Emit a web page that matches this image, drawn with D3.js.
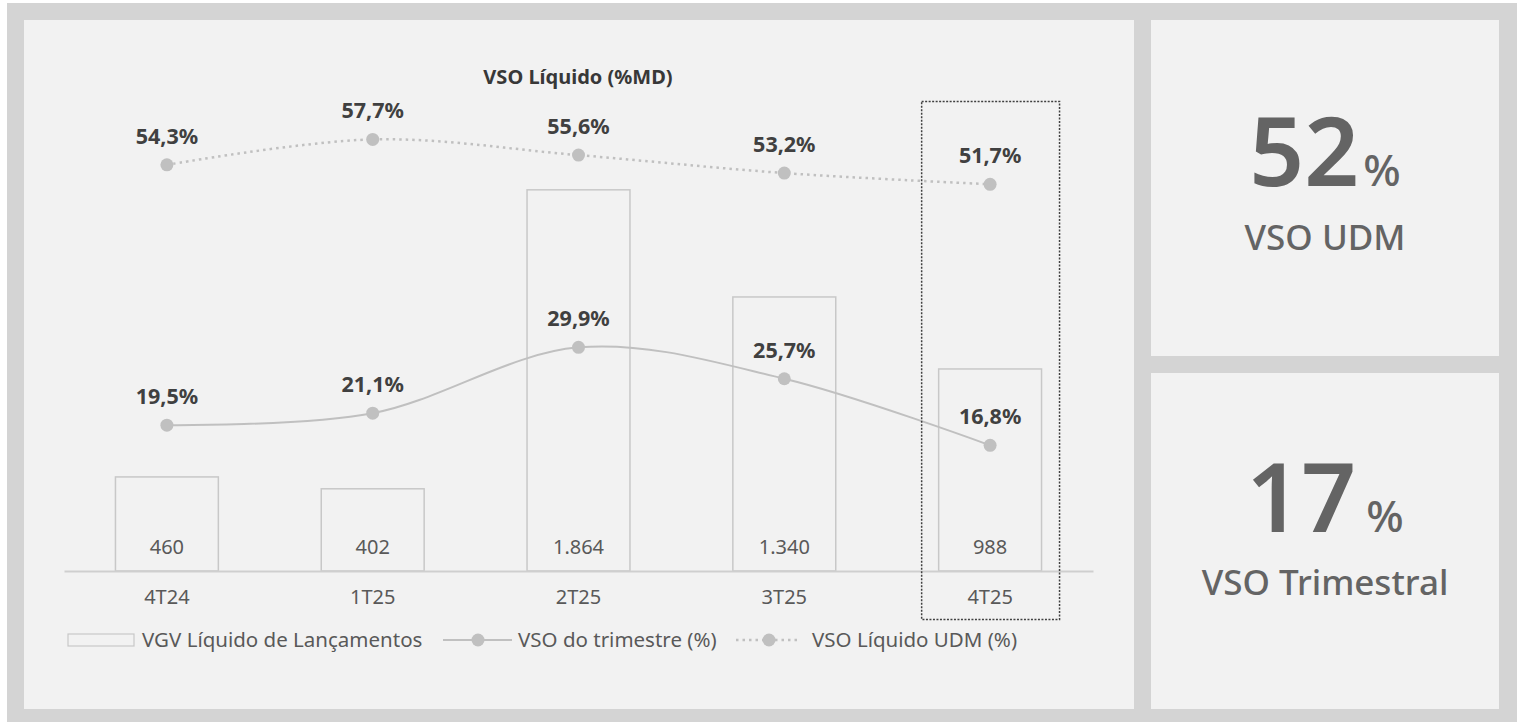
<!DOCTYPE html>
<html><head><meta charset="utf-8">
<script src="https://cdn.jsdelivr.net/npm/d3@7"></script>
<style>html,body{margin:0;padding:0;background:#fff;}svg{display:block;font-family:"Noto Sans",sans-serif;}</style>
</head><body>
<svg id="c" width="1517" height="722"></svg>
<script>
const categories = ["4T24","1T25","2T25","3T25","4T25"];
const vgvLancamentos = [460,402,1864,1340,988];
const vgvLabels = ["460","402","1.864","1.340","988"];
const vsoTrimestre = [19.5,21.1,29.9,25.7,16.8];
const vsoUdm = [54.3,57.7,55.6,53.2,51.7];
const legendLabels = ["VGV Líquido de Lançamentos","VSO do trimestre (%)","VSO Líquido UDM (%)"];
const chartTitle = "VSO Líquido (%MD)";
const kpiValues = ["52","17"];
const kpiLabels = ["VSO UDM","VSO Trimestral"];
const highlight = "4T25";

const FONT = "'Noto Sans',sans-serif";
const fmt = v => v.toFixed(1).replace(".", ",") + "%";
const svg = d3.select("#c");
svg.append("rect").attr("x",7).attr("y",3).attr("width",1510).attr("height",719).attr("fill","#d4d4d4");
svg.append("rect").attr("x",24).attr("y",20).attr("width",1110).attr("height",689).attr("fill","#f2f2f2");
svg.append("rect").attr("x",1151).attr("y",20).attr("width",348).attr("height",336).attr("fill","#f2f2f2");
svg.append("rect").attr("x",1151).attr("y",373).attr("width",348).attr("height",336).attr("fill","#f2f2f2");

const x = d3.scaleBand().domain(categories).range([64,1093]).paddingInner(0.5).paddingOuter(0.25);
const xc = c => x(c) + x.bandwidth()/2;
const yBar = d3.scaleLinear().domain([0,2000]).range([571,162]);
const yPct = d3.scaleLinear().domain([0,60]).range([571,122.2]);

svg.append("text").attr("x",578).attr("y",84).attr("text-anchor","middle")
  .attr("font-size",20).attr("font-weight",700).attr("fill","#383838").text(chartTitle);

const g = svg.append("g");
g.selectAll("rect.bar").data(categories).join("rect").attr("class","bar")
  .attr("x",c=>x(c)).attr("width",x.bandwidth())
  .attr("y",(c,i)=>yBar(vgvLancamentos[i])).attr("height",(c,i)=>yBar(0)-yBar(vgvLancamentos[i]))
  .attr("fill","none").attr("stroke","#c8c8c8").attr("stroke-width",1.5);
g.selectAll("text.bv").data(categories).join("text").attr("class","bv")
  .attr("x",c=>xc(c)).attr("y",554).attr("text-anchor","middle")
  .attr("font-size",20).attr("fill","#595959").text((c,i)=>vgvLabels[i]);

const axis = d3.axisBottom(x).tickSize(0).tickPadding(19);
const ag = svg.append("g").attr("transform","translate(0,571)").call(axis);
ag.select(".domain").attr("stroke","#cfcfcf").attr("stroke-width",2);
ag.selectAll("text").attr("font-size",20).attr("fill","#595959").attr("font-family",FONT).attr("dy","0.72em");

const line = d3.line().x((d,i)=>xc(categories[i])).y(d=>yPct(d)).curve(d3.curveCardinal.tension(0));
svg.append("path").attr("d",line(vsoTrimestre)).attr("fill","none").attr("stroke","#c0c0c0").attr("stroke-width",2);
svg.append("path").attr("d",line(vsoUdm)).attr("fill","none").attr("stroke","#c0c0c0").attr("stroke-width",2.5)
  .attr("stroke-dasharray","2.5,4");
[vsoTrimestre, vsoUdm].forEach(arr=>{
  svg.append("g").selectAll("circle").data(arr).join("circle")
    .attr("cx",(d,i)=>xc(categories[i])).attr("cy",d=>yPct(d)).attr("r",6.5).attr("fill","#c0c0c0");
  svg.append("g").selectAll("text").data(arr).join("text")
    .attr("x",(d,i)=>xc(categories[i])).attr("y",d=>yPct(d)-21).attr("text-anchor","middle")
    .attr("font-size",21.5).attr("font-weight",700).attr("fill","#404040").text(d=>fmt(d));
});

// highlight box
svg.append("rect").attr("x",x(highlight)-17).attr("y",101.5).attr("width",x.bandwidth()+35).attr("height",518)
  .attr("fill","none").attr("stroke","#404040").attr("stroke-width",1.5).attr("stroke-dasharray","2,1.5");

// legend
const ly = 640;
const lg = svg.append("g");
lg.append("rect").attr("x",68).attr("y",ly-6).attr("width",66).attr("height",12).attr("fill","none").attr("stroke","#c8c8c8").attr("stroke-width",1.2);
lg.append("text").attr("x",142).attr("y",ly+7).attr("font-size",20.5).attr("fill","#595959").text(legendLabels[0]);
lg.append("line").attr("x1",443).attr("x2",512).attr("y1",ly).attr("y2",ly).attr("stroke","#c0c0c0").attr("stroke-width",2);
lg.append("circle").attr("cx",478).attr("cy",ly).attr("r",6.5).attr("fill","#c0c0c0");
lg.append("text").attr("x",518).attr("y",ly+7).attr("font-size",20.5).attr("fill","#595959").text(legendLabels[1]);
lg.append("line").attr("x1",736).attr("x2",800).attr("y1",ly).attr("y2",ly).attr("stroke","#c0c0c0").attr("stroke-width",2.5).attr("stroke-dasharray","2.5,4");
lg.append("circle").attr("cx",769).attr("cy",ly).attr("r",6.5).attr("fill","#c0c0c0");
lg.append("text").attr("x",812).attr("y",ly+7).attr("font-size",20.5).attr("fill","#595959").text(legendLabels[2]);

// KPIs
const kpiY = [[186,250],[532,595]];
kpiValues.forEach((v,i)=>{
  const t = svg.append("text").attr("x",1325).attr("y",kpiY[i][0]).attr("text-anchor","middle").attr("fill","#646464");
  t.append("tspan").attr("font-size",96).attr("font-weight",600).text(v);
  t.append("tspan").attr("font-size",44).attr("font-weight",500).attr("dx",i==1?10:4).text("%");
  svg.append("text").attr("x",1325).attr("y",kpiY[i][1]).attr("text-anchor","middle").attr("fill","#646464")
    .attr("font-size",35).attr("font-weight",500).text(kpiLabels[i]);
});
</script></body></html>
